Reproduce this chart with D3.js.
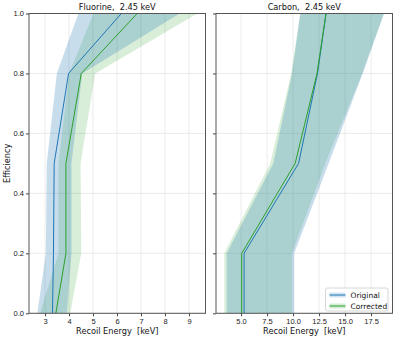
<!doctype html>
<html lang="en">
<head>
<meta charset="UTF-8">
<script src="https://cdn.jsdelivr.net/npm/d3@7"></script>
<style>
  html, body { margin: 0; padding: 0; background: #fff; }
  svg { display: block; font-family: 'DejaVu Sans', sans-serif; }
  svg text { white-space: pre; }
  .tick text { font-size: 7.5px; fill: #222; }
  .tick line { stroke: #444; }
  .domain { stroke: none; }
</style>
</head>
<body>
<svg width="398" height="339"></svg>
<script>
  // efficiency levels (y) and recoil energies (x)
  const effLevels = [0, 0.2, 0.5, 0.8, 1.0]

  const fluorineOrigMid = [3.31, 3.35, 3.38, 3.98, 6.18]
  const fluorineOrigLo = [2.68, 3.03, 3.07, 3.49, 4.39]
  const fluorineOrigHi = [3.91, 4.10, 4.10, 4.55, 8.61]
  const fluorineCorrMid = [3.45, 3.87, 3.87, 4.51, 6.84]
  const fluorineCorrLo = [2.79, 3.56, 3.56, 4.00, 5.02]
  const fluorineCorrHi = [4.05, 4.51, 4.48, 5.09, 9.35]

  const carbonOrigMid = [5.29, 5.29, 10.53, 12.35, 13.17]
  const carbonOrigLo = [3.62, 3.62, 8.10, 9.90, 10.70]
  const carbonOrigHi = [10.11, 10.11, 13.42, 16.70, 18.75]
  const carbonCorrMid = [5.06, 5.06, 10.20, 12.30, 13.17]
  const carbonCorrLo = [3.39, 3.39, 7.80, 9.82, 10.69]
  const carbonCorrHi = [9.89, 9.89, 13.10, 16.64, 18.72]

  const yTicks = [0, 0.2, 0.4, 0.6, 0.8, 1.0]
  const fluorineTicks = [3, 4, 5, 6, 7, 8, 9]
  const carbonTicks = [5, 7.5, 10, 12.5, 15, 17.5]

  const seriesNames = ['Original', 'Corrected']

  ;(function () {
    const blue = '#1f77b4'
    const green = '#2ca02c'

    const svg = d3.select('svg')
    const plotTop = 13.5, plotBottom = 313.3

    const y = d3.scaleLinear().domain([0, 1]).range([plotBottom, plotTop])

    const panels = [
      {
        title: 'Fluorine,  2.45 keV', left: 29, right: 205.5, domain: [2.33, 9.69],
        ticks: fluorineTicks, fmt: d3.format('d'), showY: true,
        orig: [fluorineOrigLo, fluorineOrigMid, fluorineOrigHi],
        corr: [fluorineCorrLo, fluorineCorrMid, fluorineCorrHi]
      },
      {
        title: 'Carbon,  2.45 keV', left: 216, right: 392.5, domain: [2.59, 19.56],
        ticks: carbonTicks, fmt: d3.format('.1f'), showY: false,
        orig: [carbonOrigLo, carbonOrigMid, carbonOrigHi],
        corr: [carbonCorrLo, carbonCorrMid, carbonCorrHi]
      }
    ]

    const toRows = ([lo, mid, hi]) => effLevels.map((e, i) => ({ e, lo: lo[i], mid: mid[i], hi: hi[i] }))

    panels.forEach((p, pi) => {
      const x = d3.scaleLinear().domain(p.domain).range([p.left, p.right])
      const g = svg.append('g')

      const clipId = 'clip' + pi
      svg.append('clipPath').attr('id', clipId)
        .append('rect')
        .attr('x', p.left).attr('y', plotTop)
        .attr('width', p.right - p.left).attr('height', plotBottom - plotTop)

      // grid
      g.append('g').selectAll('line').data(p.ticks).enter().append('line')
        .attr('x1', d => x(d)).attr('x2', d => x(d))
        .attr('y1', plotTop).attr('y2', plotBottom)
        .attr('stroke', '#e6e6e6').attr('stroke-width', 0.8)
      g.append('g').selectAll('line').data(yTicks).enter().append('line')
        .attr('x1', p.left).attr('x2', p.right)
        .attr('y1', d => y(d)).attr('y2', d => y(d))
        .attr('stroke', '#e6e6e6').attr('stroke-width', 0.8)

      const area = d3.area().y(d => y(d.e)).x0(d => x(d.lo)).x1(d => x(d.hi))
      const line = d3.line().y(d => y(d.e)).x(d => x(d.mid))

      const plot = g.append('g').attr('clip-path', `url(#${clipId})`)
      const orig = toRows(p.orig)
      const corr = toRows(p.corr)

      // green band underneath, blue band on top gives the teal overlap
      plot.append('path').datum(corr).attr('d', area).attr('fill', green).attr('fill-opacity', 0.18)
      plot.append('path').datum(orig).attr('d', area).attr('fill', blue).attr('fill-opacity', 0.25)
      plot.append('path').datum(orig).attr('d', line).attr('fill', 'none').attr('stroke', blue).attr('stroke-width', 1)
      plot.append('path').datum(corr).attr('d', line).attr('fill', 'none').attr('stroke', green).attr('stroke-width', 1)

      // axes
      g.append('g')
        .attr('transform', `translate(0,${plotBottom})`)
        .call(d3.axisBottom(x).tickValues(p.ticks).tickFormat(p.fmt).tickSize(3).tickPadding(2))

      g.append('g')
        .attr('transform', `translate(${p.left},0)`)
        .call(d3.axisLeft(y).tickValues(yTicks).tickFormat(p.showY ? d3.format('.1f') : '').tickSize(3).tickPadding(2))

      g.append('rect')
        .attr('x', p.left).attr('y', plotTop)
        .attr('width', p.right - p.left).attr('height', plotBottom - plotTop)
        .attr('fill', 'none').attr('stroke', '#555').attr('stroke-width', 1)

      g.append('text')
        .attr('x', (p.left + p.right) / 2).attr('y', 10)
        .attr('text-anchor', 'middle').attr('font-size', 8.2).attr('fill', '#111')
        .text(p.title)

      g.append('text')
        .attr('x', (p.left + p.right) / 2).attr('y', 334)
        .attr('text-anchor', 'middle').attr('font-size', 8.2).attr('fill', '#111')
        .text('Recoil Energy  [keV]')

      if (p.showY) {
        g.append('text')
          .attr('transform', `translate(9.5,${(plotTop + plotBottom) / 2}) rotate(-90)`)
          .attr('text-anchor', 'middle').attr('font-size', 8.2).attr('fill', '#111')
          .text('Efficiency')
      }
    })

    // legend in the carbon panel
    const legend = svg.append('g').attr('transform', 'translate(325.5,288)')
    legend.append('rect')
      .attr('width', 62.5).attr('height', 23).attr('rx', 2)
      .attr('fill', '#fff').attr('fill-opacity', 0.85)
      .attr('stroke', '#ccc').attr('stroke-width', 0.8)
    seriesNames.forEach((name, i) => {
      const c = i === 0 ? blue : green
      const row = legend.append('g').attr('transform', `translate(4,${7 + i * 11})`)
      row.append('rect').attr('x', 0).attr('y', -2.5).attr('width', 16).attr('height', 5)
        .attr('fill', c).attr('fill-opacity', 0.2)
      row.append('line').attr('x1', 0).attr('x2', 16).attr('y1', 0).attr('y2', 0)
        .attr('stroke', c).attr('stroke-width', 1)
      row.append('text').attr('x', 21).attr('y', 2.8)
        .attr('font-size', 7.5).attr('fill', '#111').text(name)
    })
  })()
</script>
</body>
</html>
